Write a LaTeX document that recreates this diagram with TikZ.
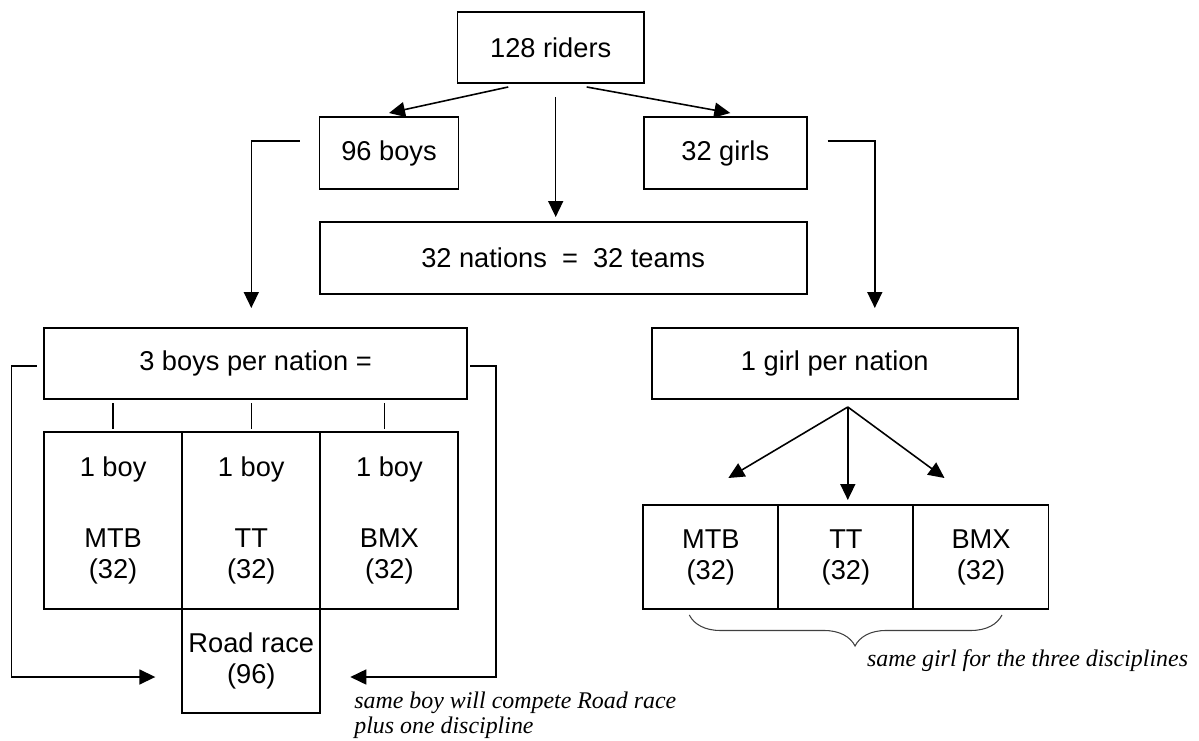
\documentclass[tikz,border=0pt]{standalone}
\usepackage{fontspec}
\setmainfont{Liberation Sans}
\newfontfamily\notefont{Liberation Serif}
\usetikzlibrary{arrows.meta, decorations.pathreplacing}

\tikzset{
  box/.style = {
    draw,
    line width = 1.1pt,
    inner sep = 0,
    outer sep = 0,
    align = center,
  },
  arr/.style = {
    line width = 0.9pt,
    -{Triangle[length = 3.2mm, width = 3mm]},
  },
  note/.style = {
    inner sep = 0,
    align = left,
    font = \notefont\itshape\fontsize{13.6}{14}\selectfont,
  },
}

\begin{document}
\begin{tikzpicture}[
    x = 0.02cm, y = -0.02cm,
    font = \fontsize{15.5}{17.6}\selectfont,
  ]
  \useasboundingbox (0,0) rectangle (1199,740);

  \node[box, minimum width = 3.73cm, minimum height = 1.42cm]
    (riders) at (550.7,47.5) {128 riders};
  \node[box, minimum width = 2.78cm, minimum height = 1.44cm]
    (boys) at (389,153) {96 boys};
  \node[box, minimum width = 3.25cm, minimum height = 1.44cm]
    (girls) at (725.3,153) {32 girls};
  \node[box, minimum width = 9.74cm, minimum height = 1.44cm]
    (nations) at (563.2,258) {32 nations~~=~~32 teams};

  \node[box, minimum width = 8.46cm, minimum height = 1.42cm]
    (bnation) at (255.5,363.5) {3 boys per nation =};
  \node[box, minimum width = 7.32cm, minimum height = 1.42cm]
    (gnation) at (834.8,363.5) {1 girl per nation};

  % boys: one per discipline
  \foreach \n/\x/\desc in {
    bMTB/113.1/{MTB},
    bTT/251.3/{TT},
    bBMX/389.4/{BMX}
  }{
    \node[box, minimum width = 2.76cm, minimum height = 3.54cm]
      (\n) at (\x,520.5) {1 boy\\[23pt]\desc\\(32)};
  }
  \node[box, minimum width = 2.76cm, minimum height = 2.08cm]
    (road) at (251.3,661) {Road race\\(96)};

  % girls: the same one in all three
  \foreach \n/\x/\desc in {
    gMTB/710.8/{MTB},
    gTT/845.9/{TT},
    gBMX/981/{BMX}
  }{
    \node[box, minimum width = 2.70cm, minimum height = 2.08cm]
      (\n) at (\x,557) {\desc\\(32)};
  }

  % top split
  \draw[arr] ([xshift = -0.85cm, yshift = -0.08cm]riders.south)
    -- ([yshift = 0.08cm]boys.north);
  \draw[arr] ([xshift = 0.72cm, yshift = -0.08cm]riders.south)
    -- ([xshift = 0.1cm, yshift = 0.08cm]girls.north);
  \draw[arr, shorten <= 0.28cm, shorten >= 0.1cm]
    ([xshift = 0.1cm]riders.south)
    -- ([xshift = 0.1cm]riders.south |- nations.north);

  \draw[arr] ([xshift = -0.4cm, yshift = 0.24cm]boys.west)
    -| ([yshift = 0.4cm]bnation.north -| bTT.north);
  \draw[arr] ([xshift = 0.42cm, yshift = 0.24cm]girls.east)
    -| ([xshift = 0.8cm, yshift = 0.4cm]gnation.north);

  \foreach \n/\dx in {bMTB/0cm, bTT/0cm, bBMX/-0.1cm} {
    \draw[line width = 0.8pt]
      ([xshift = \dx, yshift = 0.06cm]\n.north)
      -- ([xshift = \dx, yshift = 0.58cm]\n.north);
  }

  \draw[arr] ([xshift = -0.15cm, yshift = -0.05cm]bnation.west)
    -- ++(-0.5cm,0)
    |- ([xshift = -0.54cm, yshift = -0.32cm]road.west);
  \draw[arr] ([xshift = 0.07cm, yshift = -0.05cm]bnation.east)
    -- ++(0.51cm,0)
    |- ([xshift = 0.6cm, yshift = -0.32cm]road.east);

  \coordinate (gsplit) at ([xshift = 0.26cm, yshift = -0.16cm]gnation.south);
  \draw[arr] (gsplit) -- ([xshift = 0.35cm, yshift = 0.54cm]gMTB.north);
  \draw[arr] (gsplit) -- ([yshift = 0.1cm]gsplit |- gTT.north);
  \draw[arr] (gsplit) -- ([xshift = -0.73cm, yshift = 0.54cm]gBMX.north);

  \draw[
      black!75, line width = 0.6pt,
      decorate,
      decoration = {brace, mirror, amplitude = 0.62cm, aspect = 0.53},
    ]
    ([xshift = -0.43cm, yshift = -0.12cm]gMTB.south)
    -- ([xshift = 0.42cm, yshift = -0.12cm]gBMX.south);

  \node[note, anchor = base west] (gnote) at (866.7,666)
    {same girl for the three disciplines};
  \node[note, anchor = north west] (bnote) at (354,692)
    {same boy will compete Road race\\plus one discipline};

\end{tikzpicture}
\end{document}
